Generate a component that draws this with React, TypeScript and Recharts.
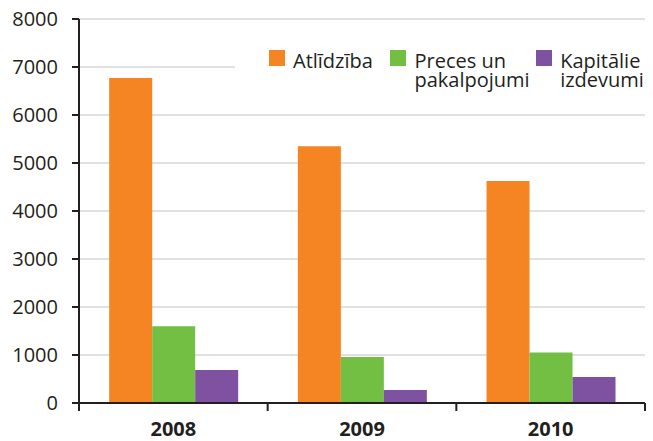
import React from "react";
import { BarChart, Bar, XAxis, YAxis, CartesianGrid, Legend } from "recharts";

const years = ["2008", "2009", "2010"];
const atlidziba = [6770, 5350, 4625];
const preces = [1600, 960, 1050];
const kapitalie = [690, 270, 540];
const yTicks = [0, 1000, 2000, 3000, 4000, 5000, 6000, 7000, 8000];
const seriesNames = ["Atlīdzība", "Preces un\npakalpojumi", "Kapitālie\nizdevumi"];
const seriesOrder = ["a", "p", "k"];

const data = years.map((y, i) => ({
  year: y,
  a: atlidziba[i],
  p: preces[i],
  k: kapitalie[i],
}));

const FONT = "'Open Sans', sans-serif";
const TXT = "#231f20";

const XTick = (props: any) => {
  const { x, y, payload, index, visibleTicksCount, width } = props;
  const half =
    payload && typeof payload.offset === "number" && payload.offset > 0
      ? payload.offset
      : width / visibleTicksCount / 2;
  return (
    <g>
      <line x1={x - half} x2={x - half} y1={y} y2={y + 8} stroke={TXT} strokeWidth={2} />
      {index === visibleTicksCount - 1 && (
        <line x1={x + half} x2={x + half} y1={y} y2={y + 8} stroke={TXT} strokeWidth={2} />
      )}
      <text
        x={x}
        y={y + 33}
        textAnchor="middle"
        fontFamily={FONT}
        fontWeight="bold"
        fontSize={20}
        fill={TXT}
      >
        {payload.value}
      </text>
    </g>
  );
};

const itemWidths = [125, 150, 112];

const LegendContent = (props: any) => {
  const payload = [...(props.payload || [])].sort(
    (a: any, b: any) => seriesOrder.indexOf(a.dataKey) - seriesOrder.indexOf(b.dataKey)
  );
  return (
    <div
      style={{
        display: "flex",
        paddingLeft: 34,
        paddingTop: 10,
        height: 46,
        width: 376,
        background: "#fff",
        fontFamily: FONT,
        fontSize: 20,
        color: TXT,
      }}
    >
      {payload.map((p: any, i: number) => (
        <div key={i} style={{ display: "flex", alignItems: "flex-start", width: itemWidths[i] }}>
          <div style={{ width: 16, height: 16, background: p.color, flexShrink: 0 }} />
          <div style={{ marginLeft: 8, marginTop: 1, lineHeight: "19px", whiteSpace: "pre" }}>
            {p.value}
          </div>
        </div>
      ))}
    </div>
  );
};

export default function App() {
  return (
    <div style={{ position: "absolute", left: 0, top: 0, width: 653, height: 441, background: "#fff" }}>
      <BarChart
        width={653}
        height={441}
        data={data}
        margin={{ top: 19, right: 8, bottom: 0, left: 0 }}
        barCategoryGap="16%"
        barGap={0}
      >
        <CartesianGrid vertical={false} stroke="#d6d6d6" strokeWidth={1.5} />
        <XAxis
          dataKey="year"
          height={38}
          axisLine={{ stroke: TXT, strokeWidth: 2 }}
          tickLine={false}
          tickSize={0}
          tickMargin={0}
          tick={<XTick />}
          interval={0}
        />
        <YAxis
          width={79}
          domain={[0, 8000]}
          ticks={yTicks}
          interval={0}
          axisLine={{ stroke: TXT, strokeWidth: 2 }}
          tickLine={{ stroke: TXT, strokeWidth: 2 }}
          tickSize={7}
          tickMargin={14}
          tick={{ fill: TXT, fontSize: 20, fontFamily: FONT }}
        />
        <Legend
          verticalAlign="top"
          content={<LegendContent />}
          wrapperStyle={{
            position: "absolute",
            top: 40,
            left: 235,
            width: 0,
            height: 0,
            overflow: "visible",
          }}
        />
        <Bar dataKey="a" name={seriesNames[0]} fill="#f58423" isAnimationActive={false} />
        <Bar dataKey="p" name={seriesNames[1]} fill="#72bf44" isAnimationActive={false} />
        <Bar dataKey="k" name={seriesNames[2]} fill="#7e52a0" isAnimationActive={false} />
      </BarChart>
    </div>
  );
}
